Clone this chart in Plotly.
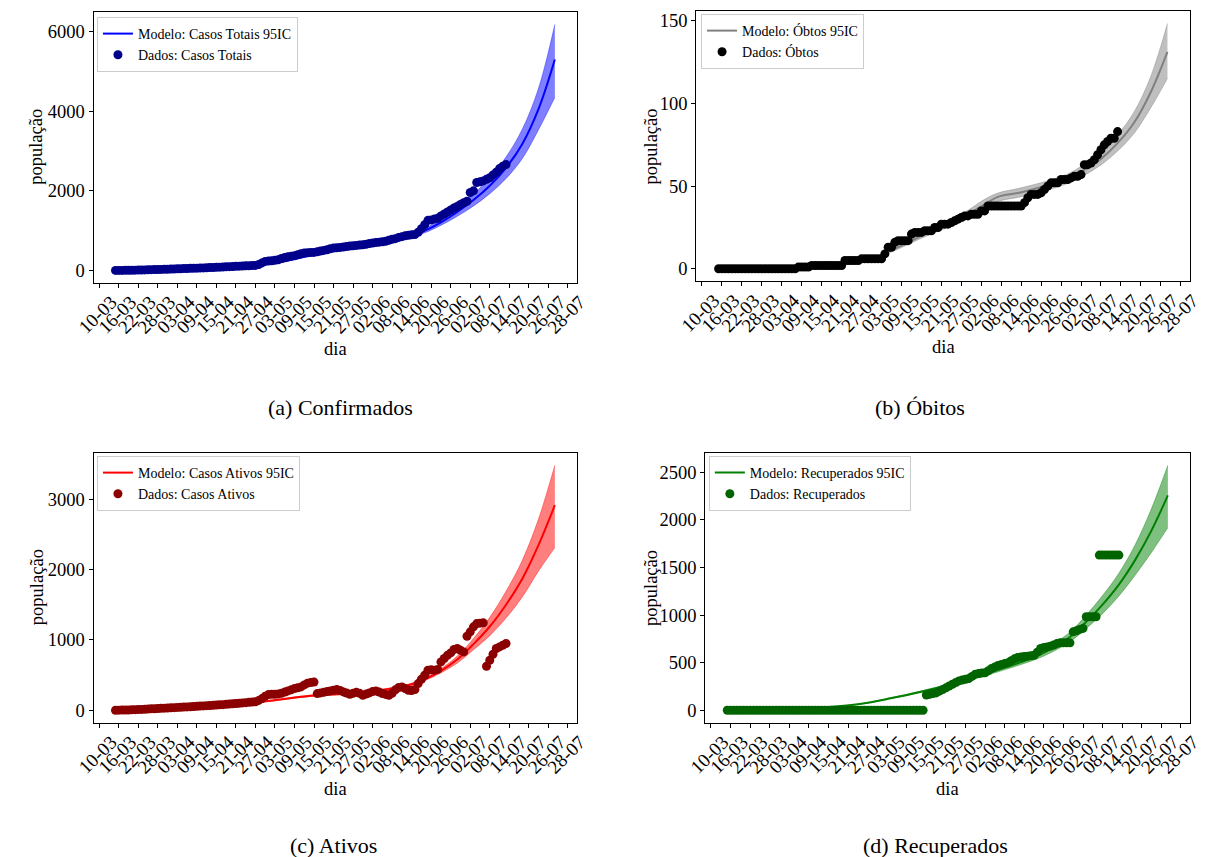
import plotly.graph_objects as go

W, H = 1209, 857
FONT = "Liberation Serif"

# ---------------- data ----------------
data_days = list(range(5, 126))          # daily observations (day index from 10-03)
tick_days = list(range(0, 145, 6))
tick_labels = ["10-03", "16-03", "22-03", "28-03", "03-04", "09-04", "15-04", "21-04",
               "27-04", "03-05", "09-05", "15-05", "21-05", "27-05", "02-06", "08-06",
               "14-06", "20-06", "26-06", "02-07", "08-07", "14-07", "20-07", "26-07", "28-07"]

confirmados = [1, 2, 2, 3, 5, 6, 8, 10, 12, 15, 17, 20, 22, 25, 27, 30, 32, 35, 38, 41,
               44, 47, 50, 53, 56, 59, 62, 65, 68, 72, 76, 80, 84, 88, 92, 96, 100, 104, 108, 112,
               116, 120, 124, 128, 150, 190, 227, 235, 243, 255, 269, 300, 327, 345, 360, 369, 395, 420, 436, 445,
               450, 453, 470, 490, 504, 520, 545, 562, 570, 580, 587, 600, 612, 621, 630, 640, 646, 660, 675, 688,
               700, 712, 722, 735, 760, 785, 800, 830, 850, 870, 885, 895, 905, 960, 1050, 1150, 1260, 1270, 1290, 1310,
               1370, 1420, 1470, 1520, 1570, 1610, 1660, 1700, 1740, 1960, 2000, 2210, 2230, 2250, 2290, 2330, 2400, 2470, 2560, 2620,
               2660]

obitos = [0, 0, 0, 0, 0, 0, 0, 0, 0, 0, 0, 0, 0, 0, 0, 0, 0, 0, 0, 0,
          0, 0, 0, 0, 1, 1, 1, 1, 2, 2, 2, 2, 2, 2, 2, 2, 2, 2, 5, 5,
          5, 5, 5, 6, 6, 6, 6, 6, 6, 6, 9, 13, 13, 16, 17, 17, 17, 17, 21, 22,
          22, 22, 23, 23, 23, 25, 25, 27, 27, 27, 28, 29, 30, 31, 32, 32, 33, 33, 33, 35,
          35, 38, 38, 38, 38, 38, 38, 38, 38, 38, 38, 38, 40, 43, 45, 45, 45, 46, 48, 50,
          52, 52, 52, 54, 54, 54, 55, 56, 56, 57, 63, 63, 64, 66, 69, 72, 75, 77, 79, 79,
          83]

ativos = [0, 1, 2, 3, 4, 6, 8, 10, 12, 14, 17,
          20, 22, 25, 27, 30, 32, 35, 37, 40, 42, 45, 48,
          50, 53, 56, 59, 62, 65, 68, 71, 74, 77, 80, 84,
          88, 92, 96, 100, 104, 108, 112, 116, 120,
          140, 166, 200, 223, 226, 228, 232, 240, 258, 275, 290, 308, 320, 332, 360, 385, 395, 400,
          237, 246, 255, 265, 275, 285, 294, 280, 261, 245, 227, 240, 255, 240, 213, 230, 246, 265, 275, 260, 237, 225, 213,
          240, 290, 322, 332, 308, 284, 280, 294,
          379, 440, 498, 569, 575, 570, 580, 687, 735, 780, 815, 863, 877, 853, 829, 1052, 1114, 1185, 1232, 1238, 1242,
          626, 711, 796, 877, 900, 924, 948]

recuperados = [0, 0, 0, 0, 0, 0, 0, 0, 0, 0, 0, 0, 0, 0, 0, 0, 0, 0, 0, 0,
               0, 0, 0, 0, 0, 0, 0, 0, 0, 0, 0, 0, 0, 0, 0, 0, 0, 0, 0, 0,
               0, 0, 0, 0, 0, 0, 0, 0, 0, 0, 0, 0, 0, 0, 0, 0, 0, 0, 0, 0,
               0,
               160, 168, 175, 182, 200, 217, 235, 255, 273, 290, 308, 318, 325, 333,
               355, 379, 385, 390, 393, 415, 438, 455, 470, 480, 490, 498, 520, 540, 554, 560, 565, 568, 572, 578,
               610, 649, 660, 665, 673, 685, 700, 708, 708, 708, 708, 824, 835, 849, 860, 982, 982, 982, 982,
               1630, 1630, 1630, 1630, 1630, 1630, 1630]

# model curves (95% IC) read at selected days
model_days = [5, 15, 25, 35, 45, 55, 65, 75, 85, 95, 100, 105, 110, 115, 120, 125, 130, 135, 140]
conf_line = [3, 18, 40, 70, 110, 200, 380, 560, 690, 860, 1000, 1210, 1470, 1770, 2130, 2580, 3180, 4060, 5300]
conf_low = [2, 16, 37, 66, 104, 190, 365, 540, 665, 820, 945, 1135, 1360, 1620, 1930, 2310, 2810, 3540, 4350]
conf_up = [4, 20, 43, 74, 116, 210, 395, 580, 715, 900, 1055, 1285, 1580, 1920, 2330, 2850, 3550, 4580, 6180]

obit_days = [55, 60, 65, 70, 75, 80, 85, 89, 95, 100, 105, 110, 115, 120, 125, 130, 135, 140]
obit_line = [9.5, 14, 19, 23.5, 28, 33, 39, 43.5, 45.8, 48.3, 51, 54.5, 59.8, 66.5, 76, 88.5, 107, 131.3]
obit_low = [8.5, 12.8, 17.6, 21.8, 26, 30.6, 36, 40.7, 43.2, 45.6, 48.2, 51.6, 56.6, 62.8, 71.2, 82, 97.5, 115.2]
obit_up = [10.5, 15.2, 20.4, 25.2, 30, 35.4, 42, 45.8, 48.5, 51, 53.8, 57.4, 63.2, 70.5, 81, 95, 116.5, 148.4]

ativ_line = [2, 12, 30, 55, 92, 150, 205, 235, 275, 355, 440, 560, 720, 940, 1190, 1500, 1870, 2350, 2915]
ativ_low = [1.8, 11, 28, 52, 87, 142, 195, 224, 262, 338, 420, 530, 670, 860, 1060, 1310, 1610, 1980, 2313]
ativ_up = [2.2, 13, 32, 58, 97, 158, 215, 246, 288, 372, 460, 590, 770, 1020, 1320, 1690, 2130, 2720, 3483]

recu_line = [2, 6, 14, 30, 62, 125, 200, 285, 390, 505, 570, 660, 770, 930, 1110, 1320, 1580, 1890, 2258]
recu_low = [2, 6, 14, 29, 60, 120, 192, 272, 372, 480, 540, 620, 720, 860, 1015, 1200, 1420, 1660, 1919]
recu_up = [2, 6, 14, 31, 64, 130, 208, 298, 408, 530, 600, 700, 820, 1000, 1205, 1440, 1740, 2120, 2574]

assert len(confirmados) == len(data_days)
assert len(obitos) == len(data_days)
assert len(ativos) == len(data_days)
assert len(recuperados) == len(data_days)

# ---------------- panels ----------------
panels = [
    dict(mx=model_days, line=conf_line, low=conf_low, up=conf_up, data=confirmados,
         lc="#0000ff", band="rgba(0,0,255,0.5)", dc="#00008b",
         mname="Modelo: Casos Totais 95IC", dname="Dados: Casos Totais",
         xdom=[76.5, 572.5], ydom=[12, 282.5], yr=[-302, 6493], yt=[0, 2000, 4000, 6000],
         leg=(80, 17), ytitle_x=18, cap="(a) Confirmados", capx=330, capy=407),
    dict(mx=obit_days, line=obit_line, low=obit_low, up=obit_up, data=obitos,
         lc="#808080", band="rgba(128,128,128,0.5)", dc="#000000",
         mname="Modelo: Óbtos 95IC", dname="Dados: Óbtos",
         xdom=[695, 1201.7], ydom=[11.3, 281], yr=[-7.4, 155.8], yt=[0, 50, 100, 150],
         leg=(700, 14), ytitle_x=649, cap="(b) Óbitos", capx=925, capy=407),
    dict(mx=model_days, line=ativ_line, low=ativ_low, up=ativ_up, data=ativos,
         lc="#ff0000", band="rgba(255,0,0,0.5)", dc="#8b0000",
         mname="Modelo: Casos Ativos 95IC", dname="Dados: Casos Ativos",
         xdom=[76.5, 572.5], ydom=[452.7, 722.5], yr=[-174, 3660], yt=[0, 1000, 2000, 3000],
         leg=(80, 456), ytitle_x=18, cap="(c) Ativos", capx=323, capy=845),
    dict(mx=model_days, line=recu_line, low=recu_low, up=recu_up, data=recuperados,
         lc="#008000", band="rgba(0,128,0,0.5)", dc="#006400",
         mname="Modelo: Recuperados 95IC", dname="Dados: Recuperados",
         xdom=[704.3, 1201.7], ydom=[452.7, 722.5], yr=[-129, 2706], yt=[0, 500, 1000, 1500, 2000, 2500],
         leg=(708, 456), ytitle_x=648, cap="(d) Recuperados", capx=941, capy=845),
]

fig = go.Figure()
annotations = []
layout = dict(
    width=W, height=H, margin=dict(l=0, r=0, t=0, b=0),
    paper_bgcolor="white", plot_bgcolor="white",
    font=dict(family=FONT, color="black", size=18),
    showlegend=True,
)

for i, p in enumerate(panels):
    suf = "" if i == 0 else str(i + 1)
    xa, ya = "x" + suf, "y" + suf
    legname = "legend" + suf
    common = dict(xaxis=xa, yaxis=ya, hoverinfo="skip")
    fig.add_trace(go.Scatter(x=p["mx"], y=p["low"], mode="lines", line_shape="spline",
                             line=dict(color=p["band"], width=0.8), showlegend=False, **common))
    fig.add_trace(go.Scatter(x=p["mx"], y=p["up"], mode="lines", line_shape="spline",
                             fill="tonexty", fillcolor=p["band"],
                             line=dict(color=p["band"], width=0.8), showlegend=False, **common))
    fig.add_trace(go.Scatter(x=p["mx"], y=p["line"], mode="lines", line_shape="spline",
                             line=dict(color=p["lc"], width=2), name=p["mname"],
                             legend=legname, **common))
    fig.add_trace(go.Scatter(x=data_days, y=p["data"], mode="markers",
                             marker=dict(color=p["dc"], size=9, line=dict(width=0)),
                             name=p["dname"], legend=legname, **common))

    x0, x1 = p["xdom"]
    y0, y1 = p["ydom"]
    layout["xaxis" + suf] = dict(
        domain=[x0 / W, x1 / W], anchor=ya, range=[-1.75, 146.75],
        tickmode="array", tickvals=tick_days, ticktext=tick_labels, tickangle=-45,
        ticklabelshift=12, ticklabelstandoff=-4, ticks="outside", ticklen=4, tickwidth=1,
        tickcolor="black", showline=True, linecolor="black", linewidth=1, mirror=True,
        showgrid=False, zeroline=False, tickfont=dict(family=FONT, size=19, color="black"),
    )
    layout["yaxis" + suf] = dict(
        domain=[1 - y1 / H, 1 - y0 / H], anchor=xa, range=p["yr"],
        tickmode="array", tickvals=p["yt"], ticks="outside", ticklen=4, tickwidth=1,
        tickcolor="black", showline=True, linecolor="black", linewidth=1, mirror=True,
        showgrid=False, zeroline=False, tickfont=dict(family=FONT, size=18.5, color="black"),
    )
    lx, ly = p["leg"]
    layout[legname] = dict(
        x=lx / W, y=1 - ly / H, xanchor="left", yanchor="top", xref="paper", yref="paper",
        bgcolor="rgba(255,255,255,0.8)", bordercolor="#cccccc", borderwidth=1,
        font=dict(family=FONT, size=14, color="black"), tracegroupgap=0, itemwidth=30,
        traceorder="normal",
    )
    # axis titles
    annotations.append(dict(x=p["ytitle_x"] / W, y=1 - ((y0 + y1) / 2) / H, xref="paper", yref="paper",
                            text="população", textangle=-90, showarrow=False,
                            font=dict(family=FONT, size=18.5, color="black"),
                            xanchor="center", yanchor="middle"))
    annotations.append(dict(x=((x0 + x1) / 2) / W, y=1 - (y1 + 66) / H, xref="paper", yref="paper",
                            text="dia", showarrow=False,
                            font=dict(family=FONT, size=18.5, color="black"),
                            xanchor="center", yanchor="middle"))
    annotations.append(dict(x=p["capx"] / W, y=1 - p["capy"] / H, xref="paper", yref="paper",
                            text=p["cap"], showarrow=False,
                            font=dict(family=FONT, size=22, color="black"),
                            xanchor="center", yanchor="middle"))

layout["annotations"] = annotations
fig.update_layout(**layout)
fig.write_html("out.html")
